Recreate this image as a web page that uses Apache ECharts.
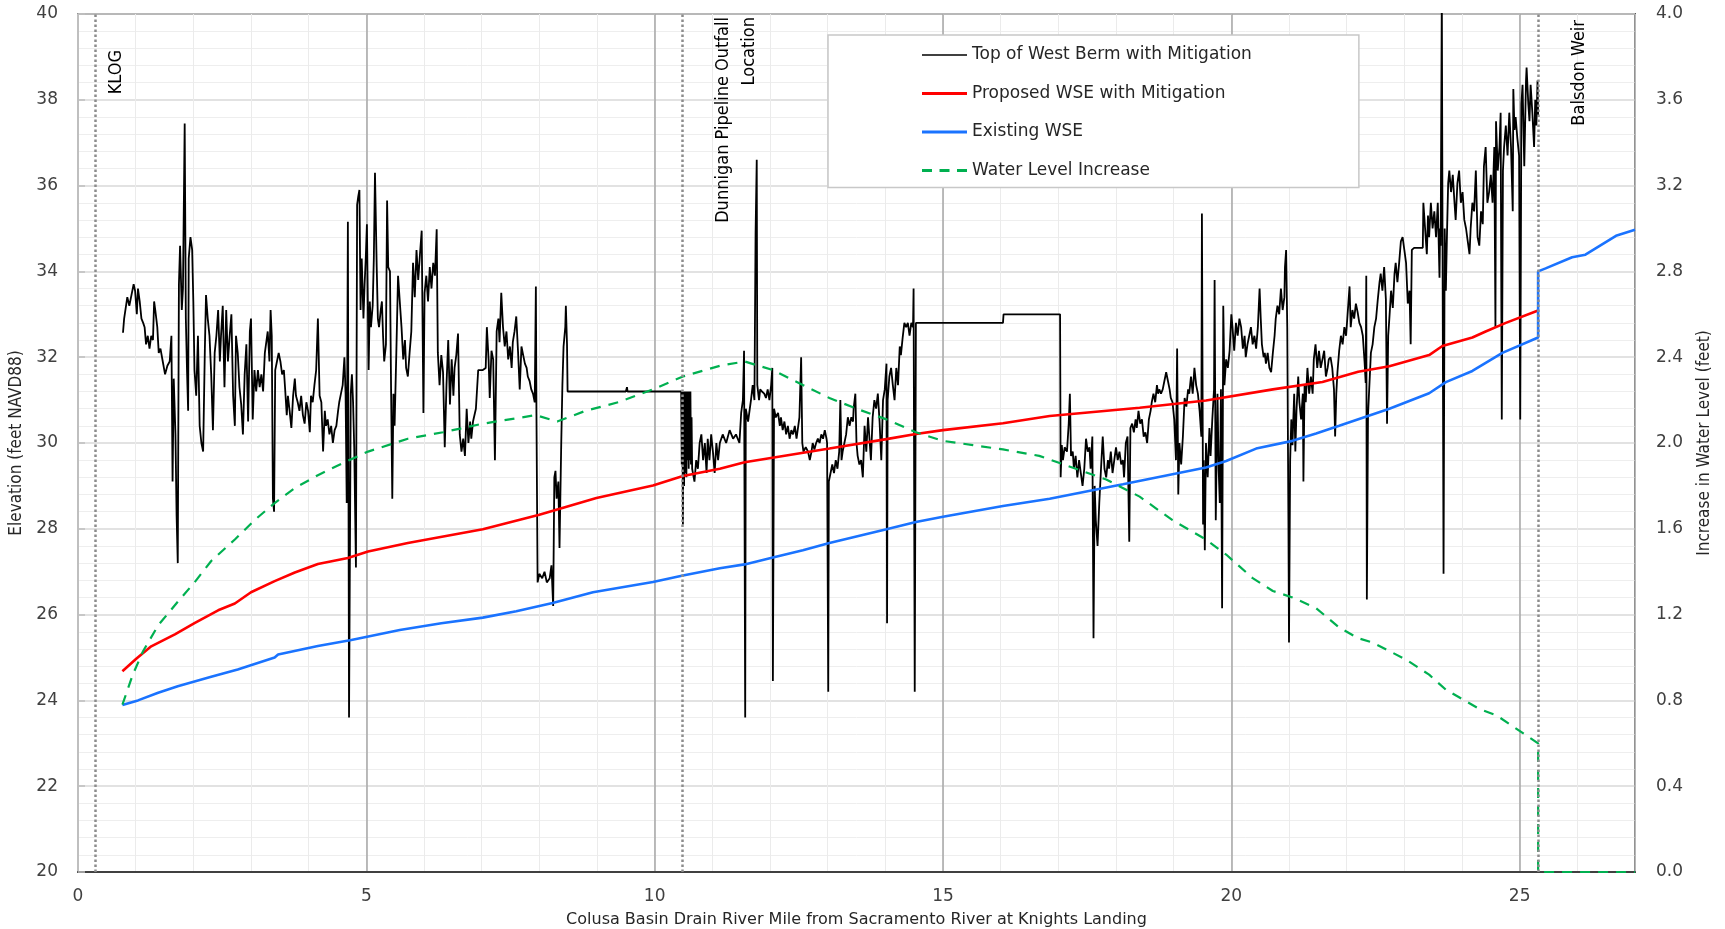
<!DOCTYPE html>
<html>
<head>
<meta charset="utf-8">
<script src="https://cdn.jsdelivr.net/npm/echarts@6/dist/echarts.min.js"></script>
<style>
  html, body { margin: 0; padding: 0; background: #ffffff; }
  #chart { width: 1725px; height: 929px; }
</style>
</head>
<body>
<div id="chart"></div>
<script>
// River mile / elevation pairs for each profile.

// Top of west berm (feet NAVD88) along the drain
const bermTop = [
  [0.78,32.57],[0.80,32.9],[0.83,32.92],[0.855,33.4],[0.89,33.2],[0.92,33.4],[0.965,33.7],[0.99,33.55],[1.02,33.0],[1.04,33.6],
  [1.07,33.3],[1.10,32.9],[1.13,32.8],[1.155,32.7],[1.18,32.3],[1.21,32.5],[1.24,32.2],[1.27,32.5],[1.30,32.4],[1.32,33.3],
  [1.34,33.1],[1.375,32.7],[1.40,32.1],[1.43,32.2],[1.47,31.9],[1.51,31.6],[1.55,31.8],[1.59,31.9],[1.62,32.5],[1.64,29.1],
  [1.66,31.5],[1.69,30.2],[1.71,28.3],[1.73,27.2],[1.75,33.7],[1.77,34.6],[1.80,33.1],[1.82,33.6],[1.85,37.45],[1.87,32.9],
  [1.89,31.7],[1.91,30.75],[1.92,34.3],[1.95,34.8],[1.98,34.5],[2.0,33.3],[2.02,31.7],[2.05,31.1],[2.08,32.5],[2.11,30.4],
  [2.14,30.0],[2.17,29.8],[2.2,32.2],[2.22,33.45],[2.25,32.9],[2.28,32.5],[2.31,31.6],[2.34,30.3],[2.37,32.1],[2.40,32.5],
  [2.43,33.1],[2.46,31.9],[2.48,32.5],[2.51,33.2],[2.54,31.3],[2.57,33.1],[2.60,31.9],[2.63,32.5],[2.66,33.0],[2.69,31.1],
  [2.72,30.4],[2.74,32.5],[2.77,32.1],[2.80,31.3],[2.83,30.9],[2.86,30.2],[2.89,31.6],[2.92,32.3],[2.95,30.5],[2.98,32.6],
  [3.0,32.9],[3.03,30.55],[3.06,31.7],[3.09,31.2],[3.12,31.7],[3.15,31.3],[3.18,31.6],[3.21,31.2],[3.24,32.1],[3.26,32.3],
  [3.29,32.6],[3.32,31.9],[3.34,33.1],[3.36,32.5],[3.38,28.7],[3.40,28.4],[3.42,31.7],[3.45,31.9],[3.48,32.1],[3.51,31.9],
  [3.54,31.6],[3.57,31.7],[3.59,31.3],[3.62,30.65],[3.64,31.1],[3.67,30.75],[3.70,30.35],[3.73,31.1],[3.76,31.5],[3.78,31.1],
  [3.81,30.95],[3.84,30.75],[3.87,31.1],[3.90,30.65],[3.93,30.45],[3.96,30.95],[3.99,30.75],[4.02,30.25],[4.04,31.1],[4.07,30.95],
  [4.10,31.35],[4.13,31.7],[4.16,32.9],[4.19,31.1],[4.22,30.95],[4.25,29.8],[4.28,30.75],[4.30,30.4],[4.33,30.55],[4.36,30.2],
  [4.39,30.4],[4.42,30.0],[4.45,30.3],[4.48,30.4],[4.51,30.75],[4.53,30.95],[4.56,31.15],[4.59,31.35],[4.62,32.0],[4.64,31.15],
  [4.66,28.6],[4.68,35.16],[4.70,23.6],[4.71,23.6],[4.73,31.15],[4.75,31.6],[4.77,30.95],[4.79,29.9],[4.82,27.1],[4.84,35.55],
  [4.86,35.75],[4.88,35.9],[4.90,33.1],[4.92,34.3],[4.95,32.9],[4.97,33.7],[4.99,34.3],[5.01,35.1],[5.04,31.7],[5.06,33.3],
  [5.08,32.7],[5.11,33.2],[5.13,34.3],[5.15,36.3],[5.18,34.1],[5.20,32.9],[5.22,32.7],[5.25,33.1],[5.27,33.3],[5.29,32.5],
  [5.31,31.9],[5.34,32.3],[5.36,35.65],[5.38,34.1],[5.41,34.0],[5.43,31.15],[5.45,28.7],[5.47,31.15],[5.49,30.4],[5.52,32.1],
  [5.55,33.9],[5.58,33.9],[5.61,32.7],[5.64,31.95],[5.67,32.4],[5.69,31.75],[5.72,31.55],[5.75,32.1],[5.78,32.6],[5.81,34.2],
  [5.84,33.4],[5.87,34.5],[5.90,33.8],[5.93,34.4],[5.96,34.95],[5.99,30.7],[6.01,33.5],[6.04,33.9],[6.07,33.3],[6.10,34.1],
  [6.13,33.6],[6.16,34.2],[6.19,33.9],[6.22,34.98],[6.24,32.1],[6.27,31.35],[6.30,32.05],[6.33,31.65],[6.36,29.9],[6.39,31.35],
  [6.42,32.4],[6.45,30.9],[6.48,31.95],[6.51,31.1],[6.53,31.75],[6.56,32.05],[6.59,32.55],[6.62,30.2],[6.65,29.8],[6.68,30.1],
  [6.71,29.7],[6.74,30.8],[6.77,30.0],[6.80,30.5],[6.82,30.1],[6.85,30.5],[6.90,30.8],[6.94,31.7],[7.02,31.7],[7.07,31.75],
  [7.09,32.7],[7.12,31.95],[7.14,31.05],[7.17,32.15],[7.20,31.95],[7.23,29.6],[7.26,32.6],[7.29,32.9],[7.31,32.35],[7.34,33.5],
  [7.37,32.7],[7.40,32.25],[7.43,32.6],[7.46,31.95],[7.49,32.25],[7.52,31.75],[7.54,32.35],[7.57,32.6],[7.60,32.95],[7.63,32.15],
  [7.66,31.25],[7.69,32.25],[7.72,32.05],[7.75,31.85],[7.78,31.75],[7.80,31.55],[7.83,31.45],[7.86,31.25],[7.89,31.15],[7.92,30.95],
  [7.94,33.65],[7.95,30.7],[7.97,26.75],[8.00,26.95],[8.05,26.85],[8.09,27.0],[8.13,26.75],[8.18,26.85],[8.21,27.15],[8.24,26.2],
  [8.26,29.2],[8.28,29.35],[8.30,28.7],[8.33,29.1],[8.35,27.55],[8.38,30.0],[8.40,31.35],[8.42,32.25],[8.45,32.7],[8.46,33.2],
  [8.48,32.3],[8.49,31.2],[9.50,31.2],[9.52,31.3],[9.53,31.2],[10.46,31.2],
  [10.47,29.5],[10.48,31.2],[10.49,28.1],[10.50,31.2],[10.51,29.0],[10.52,31.2],[10.53,29.3],[10.54,31.2],[10.55,29.2],[10.56,31.2],
  [10.57,29.6],[10.58,31.2],[10.59,29.4],[10.60,31.2],[10.61,29.6],[10.62,31.2],[10.63,29.5],[10.64,30.6],[10.65,29.4],
  [10.66,29.4],[10.69,29.1],[10.72,29.6],[10.75,29.4],[10.78,30.0],[10.81,30.2],[10.84,29.6],[10.87,30.0],[10.90,29.3],[10.92,30.1],
  [10.95,29.6],[10.98,30.2],[11.01,29.8],[11.04,29.3],[11.07,30.0],[11.10,29.6],[11.13,30.0],[11.18,30.2],[11.24,30.0],[11.30,30.3],
  [11.36,30.1],[11.41,30.2],[11.47,30.0],[11.50,30.7],[11.53,31.0],[11.55,32.15],[11.57,23.6],[11.58,30.8],[11.62,30.5],[11.65,30.8],
  [11.67,31.0],[11.70,31.35],[11.73,31.0],[11.75,34.9],[11.77,36.6],[11.78,31.35],[11.81,31.0],[11.83,31.25],[11.86,31.2],[11.90,31.15],
  [11.93,31.05],[11.96,31.25],[11.99,31.0],[12.02,31.35],[12.04,31.75],[12.05,24.45],[12.07,30.8],[12.10,30.6],[12.14,30.7],[12.17,30.4],
  [12.19,30.6],[12.22,30.3],[12.25,30.5],[12.28,30.2],[12.31,30.4],[12.34,30.1],[12.37,30.3],[12.40,30.2],[12.43,30.4],[12.46,30.1],
  [12.48,30.3],[12.51,30.6],[12.54,32.0],[12.56,30.0],[12.58,29.8],[12.62,29.9],[12.66,29.8],[12.69,29.6],[12.72,29.8],[12.74,30.0],
  [12.77,29.85],[12.80,30.0],[12.83,30.1],[12.86,30.0],[12.89,30.2],[12.92,30.1],[12.95,30.3],[12.98,30.1],[12.99,30.0],[13.01,24.2],
  [13.02,29.1],[13.05,29.3],[13.08,29.5],[13.11,29.3],[13.14,29.6],[13.17,29.4],[13.20,29.8],[13.22,31.0],[13.24,29.6],[13.26,29.8],
  [13.29,30.0],[13.32,30.2],[13.35,30.6],[13.38,30.4],[13.41,30.6],[13.44,30.5],[13.45,30.8],[13.48,31.15],[13.50,30.0],[13.52,29.7],
  [13.55,29.5],[13.58,29.6],[13.61,29.2],[13.64,30.4],[13.67,29.8],[13.70,30.6],[13.73,30.0],[13.75,29.6],[13.78,30.6],[13.81,31.0],
  [13.84,30.8],[13.87,31.15],[13.90,30.5],[13.93,29.6],[13.96,31.0],[13.99,31.25],[14.02,31.85],[14.03,25.8],[14.04,31.0],[14.07,31.55],
  [14.10,31.75],[14.13,31.35],[14.16,31.0],[14.19,31.75],[14.22,31.35],[14.25,32.25],[14.27,32.05],[14.30,32.45],[14.33,32.8],[14.36,32.7],
  [14.39,32.8],[14.42,32.5],[14.45,32.8],[14.48,32.7],[14.49,33.6],[14.51,24.2],[14.53,32.8],[16.04,32.8],[16.05,33.0],[17.03,33.0],
  [17.04,29.2],[17.06,29.95],[17.08,29.6],[17.11,29.9],[17.15,29.8],[17.18,30.45],[17.20,31.15],[17.22,29.7],[17.25,29.8],[17.27,29.4],
  [17.30,29.7],[17.33,29.2],[17.36,29.6],[17.39,29.3],[17.42,29.0],[17.45,29.4],[17.48,30.1],[17.51,29.8],[17.54,29.9],[17.56,29.4],
  [17.59,30.15],[17.61,25.45],[17.63,29.0],[17.65,28.2],[17.68,27.6],[17.71,28.6],[17.74,29.4],[17.77,30.15],[17.80,29.4],[17.83,29.2],
  [17.86,29.6],[17.88,29.4],[17.91,29.8],[17.94,29.3],[17.97,29.6],[18.00,29.9],[18.03,29.6],[18.06,29.8],[18.09,29.5],[18.12,29.6],
  [18.14,29.2],[18.17,30.0],[18.20,30.15],[18.23,27.7],[18.25,30.35],[18.28,30.45],[18.31,30.25],[18.34,30.55],[18.36,30.35],[18.39,30.75],
  [18.42,30.45],[18.45,30.55],[18.48,30.15],[18.51,30.25],[18.54,30.0],[18.57,30.55],[18.60,30.75],[18.62,30.95],[18.65,31.15],[18.68,30.95],
  [18.71,31.35],[18.73,31.15],[18.75,31.25],[18.78,31.15],[18.81,31.25],[18.84,31.45],[18.87,31.65],[18.90,31.45],[18.93,31.25],[18.95,31.05],
  [18.98,30.95],[19.01,30.55],[19.04,29.6],[19.06,32.2],[19.08,28.8],[19.10,30.0],[19.13,29.5],[19.16,30.15],[19.19,31.05],[19.22,30.85],
  [19.25,31.25],[19.27,31.15],[19.30,31.55],[19.33,31.15],[19.36,31.75],[19.39,31.35],[19.42,31.15],[19.45,30.75],[19.48,30.15],[19.49,35.35],
  [19.51,28.1],[19.52,29.6],[19.54,27.5],[19.56,30.0],[19.59,29.2],[19.62,30.35],[19.64,29.7],[19.67,30.55],[19.70,31.25],[19.71,33.8],
  [19.73,28.2],[19.76,31.15],[19.78,29.4],[19.80,28.6],[19.82,31.25],[19.84,26.15],[19.86,33.2],[19.88,31.35],[19.91,31.95],[19.94,31.75],
  [19.97,32.15],[20.00,33.0],[20.02,32.7],[20.05,32.15],[20.08,32.8],[20.11,32.5],[20.14,32.9],[20.17,32.7],[20.20,32.2],[20.23,32.5],
  [20.25,32.0],[20.28,32.3],[20.31,32.5],[20.34,32.7],[20.37,32.3],[20.40,32.5],[20.43,32.2],[20.46,32.7],[20.49,33.6],[20.51,32.9],
  [20.53,32.3],[20.56,32.0],[20.58,32.1],[20.60,31.85],[20.63,32.1],[20.66,31.75],[20.69,31.65],[20.72,32.1],[20.75,32.5],[20.77,32.9],
  [20.80,33.2],[20.83,33.0],[20.86,33.6],[20.89,33.1],[20.92,33.4],[20.93,34.1],[20.95,34.5],[20.97,32.7],[20.99,28.2],[21.00,25.35],
  [21.02,29.6],[21.04,30.55],[21.06,29.95],[21.09,31.15],[21.11,29.8],[21.13,30.75],[21.16,31.55],[21.18,30.95],[21.21,30.55],[21.24,31.15],
  [21.25,29.1],[21.27,31.35],[21.29,30.95],[21.32,31.75],[21.35,31.15],[21.38,31.55],[21.41,31.15],[21.43,31.95],[21.46,32.3],[21.49,31.75],
  [21.52,32.15],[21.55,31.75],[21.58,31.95],[21.61,32.15],[21.64,31.55],[21.67,31.75],[21.69,31.95],[21.72,32.0],[21.75,31.75],[21.78,31.25],
  [21.80,30.15],[21.82,31.15],[21.84,31.65],[21.87,32.15],[21.90,32.5],[21.93,32.3],[21.96,32.7],[21.99,32.5],[22.02,32.5],[22.05,33.65],
  [22.07,32.7],[22.10,33.1],[22.13,32.9],[22.16,33.25],[22.19,33.05],[22.22,32.8],[22.25,32.7],[22.28,32.5],[22.31,31.9],[22.33,31.4],
  [22.34,33.9],[22.35,26.35],[22.37,30.65],[22.42,32.1],[22.45,32.3],[22.48,32.7],[22.51,32.9],[22.54,33.35],[22.57,33.75],[22.59,33.95],
  [22.62,33.55],[22.65,34.1],[22.68,33.35],[22.70,30.45],[22.72,32.5],[22.74,32.9],[22.77,33.55],[22.80,33.15],[22.83,33.95],[22.85,34.2],
  [22.88,33.75],[22.91,34.2],[22.94,34.7],[22.97,34.8],[23.00,34.5],[23.03,34.2],[23.06,33.25],[23.09,33.55],[23.11,32.3],[23.13,34.5],
  [23.17,34.55],[23.32,34.55],[23.33,35.6],[23.36,35.0],[23.39,34.4],[23.41,35.3],[23.43,34.8],[23.46,35.6],[23.49,35.0],[23.52,35.4],
  [23.55,34.8],[23.58,35.6],[23.61,33.85],[23.62,35.0],[23.63,34.6],[23.65,40.5],[23.66,35.84],[23.68,26.95],[23.70,35.0],[23.72,33.55],
  [23.74,34.9],[23.76,36.05],[23.78,36.35],[23.81,35.85],[23.84,36.25],[23.87,35.6],[23.89,35.2],[23.92,36.05],[23.95,36.35],[23.98,35.6],
  [24.01,35.85],[24.04,35.2],[24.07,35.0],[24.10,34.7],[24.13,34.4],[24.15,35.0],[24.18,35.6],[24.21,35.4],[24.24,36.35],[24.27,34.8],
  [24.30,34.6],[24.33,35.4],[24.36,35.1],[24.38,36.45],[24.41,36.9],[24.44,35.6],[24.47,35.85],[24.50,36.25],[24.53,35.6],[24.56,36.9],
  [24.58,32.7],[24.59,37.5],[24.62,36.35],[24.65,36.9],[24.67,37.7],[24.69,30.55],[24.71,36.35],[24.73,36.9],[24.76,37.4],[24.79,36.7],
  [24.82,37.7],[24.85,36.9],[24.88,35.4],[24.89,38.25],[24.91,37.3],[24.93,37.6],[24.96,37.1],[24.99,36.7],[25.01,30.55],[25.03,37.9],
  [25.05,38.35],[25.08,36.45],[25.11,38.45],[25.12,38.75],[25.15,37.9],[25.17,37.5],[25.19,38.35],[25.22,37.7],[25.25,36.9],[25.27,38.0],
  [25.29,37.4],[25.31,38.45],[25.32,37.6]
];

// Proposed water surface elevation with mitigation (feet NAVD88)
const proposedWse = [
  [0.77,24.68],[1.01,24.97],[1.27,25.26],[1.68,25.54],[2.02,25.8],[2.43,26.1],[2.72,26.26],[3.0,26.52],[3.41,26.78],[3.76,26.98],
  [4.16,27.18],[4.68,27.32],[5.03,27.47],[5.72,27.67],[7.02,27.99],[8.0,28.33],[8.99,28.72],[9.97,29.01],[10.49,29.23],[11.13,29.4],
  [11.56,29.55],[13.03,29.87],[14.02,30.09],[14.53,30.21],[15.0,30.3],[16.04,30.46],[16.85,30.63],[18.41,30.82],[19.56,30.99],[20.72,31.25],
  [21.58,31.42],[22.2,31.66],[22.74,31.79],[23.43,32.05],[23.66,32.26],[24.18,32.46],[24.41,32.6],[24.76,32.8],[25.32,33.09]
];

// Existing water surface elevation (feet NAVD88)
const existingWse = [
  [0.77,23.89],[1.04,24.0],[1.39,24.18],[1.73,24.33],[2.31,24.55],[2.77,24.72],[3.41,25.0],[3.47,25.07],[4.16,25.27],[4.74,25.41],
  [5.58,25.64],[6.3,25.8],[7.02,25.93],[7.6,26.08],[8.23,26.27],[8.93,26.52],[9.97,26.76],[10.49,26.91],[11.13,27.08],[11.56,27.17],
  [12.05,27.33],[12.57,27.5],[13.03,27.67],[14.02,27.99],[14.53,28.16],[15.0,28.28],[16.04,28.53],[16.85,28.7],[18.12,29.04],[19.56,29.43],
  [19.91,29.58],[20.43,29.87],[21.06,30.05],[21.47,30.22],[21.87,30.4],[22.74,30.8],[23.43,31.16],[23.72,31.42],[24.18,31.68],[24.7,32.1],
  [25.32,32.46],[25.32,34.0],[25.45,34.07],[25.91,34.33],[26.14,34.39],[26.67,34.83],[27.0,34.97]
];

// Increase in water level (feet), right-hand axis
const levelIncrease = [
  [0.77,0.78],[0.95,0.92],[1.13,1.03],[1.39,1.15],[1.73,1.26],[2.02,1.35],[2.31,1.45],[2.72,1.55],[3.06,1.64],[3.41,1.72],
  [3.76,1.79],[4.16,1.85],[4.62,1.91],[5.03,1.96],[5.72,2.02],[6.33,2.05],[7.02,2.09],[7.94,2.13],[8.31,2.1],[8.8,2.15],
  [9.37,2.19],[9.97,2.25],[10.49,2.31],[11.13,2.36],[11.56,2.38],[12.05,2.34],[12.57,2.27],[13.03,2.21],[13.5,2.16],[14.02,2.11],
  [14.53,2.05],[15.0,2.01],[15.52,1.99],[16.04,1.97],[16.67,1.94],[17.83,1.83],[18.41,1.75],[18.98,1.64],[19.56,1.55],[19.91,1.48],
  [20.37,1.37],[20.72,1.31],[21.06,1.28],[21.47,1.23],[21.87,1.14],[22.2,1.09],[22.45,1.07],[23.03,0.99],[23.43,0.92],[23.72,0.85],
  [24.3,0.76],[24.6,0.73],[25.32,0.6],[25.32,0],[27,0]
];

// Reference locations along the drain
const markerMiles = [0.3, 10.47, 25.32];
const markerNames = ['KLOG', 'Dunnigan Pipeline Outfall\nLocation', 'Balsdon Weir'];

const seriesNames = [
  'Top of West Berm with Mitigation',
  'Proposed WSE with Mitigation',
  'Existing WSE',
  'Water Level Increase'
];

// Legend keys: plain line segments (solid, or dashed for the increase)
const legendKeys = [
  'path://M0,0h45v1.5h-45z',
  'path://M0,0h45v3h-45z',
  'path://M0,0h45v3h-45z',
  'path://M0,0h10v3h-10z M17.5,0h10v3h-10z M35,0h10v3h-10z'
];
const seriesColors = ['#000000', '#ff0000', '#1a73ff', '#00b050'];

const uiFont = '"DejaVu Sans", Verdana, sans-serif';
const narrowFont = '"Liberation Sans Narrow", "DejaVu Sans Condensed", "Arial Narrow", sans-serif';

const chart = echarts.init(document.getElementById('chart'), null, { renderer: 'canvas' });

const option = {
  animation: false,
  backgroundColor: '#ffffff',
  grid: {
    left: 78, right: 90, top: 14, bottom: 57,
    containLabel: false, outerBoundsMode: 'none',
    show: true, borderColor: '#595959', borderWidth: 2, backgroundColor: 'transparent'
  },
  legend: {
    orient: 'vertical',
    left: 828, top: 35,
    padding: [10, 107, 7, 94],
    itemWidth: 45, itemHeight: 3, itemGap: 18.5,
    backgroundColor: '#ffffff',
    borderColor: '#c8c8c8', borderWidth: 1.5,
    textStyle: { fontFamily: uiFont, fontSize: 17, color: '#262626', lineHeight: 20 },
    data: seriesNames.map((n, i) => ({
      name: n, icon: legendKeys[i],
      itemStyle: { color: seriesColors[i], borderWidth: 0 }
    }))
  },
  xAxis: [
    {
      // one-mile minor grid
      type: 'value', min: 0, max: 27, interval: 1,
      axisLine: { show: false }, axisTick: { show: false }, axisLabel: { show: false },
      splitLine: { show: true, lineStyle: { color: '#ebebeb', width: 1 } }
    },
    {
      type: 'value', min: 0, max: 27, interval: 5, position: 'bottom',
      axisLine: { show: true, onZero: false, lineStyle: { color: '#404040', width: 2 } },
      axisTick: { show: false },
      axisLabel: {
        margin: 16, fontFamily: uiFont, fontSize: 17, color: '#404040',
        formatter: v => (v % 5 === 0 ? String(v) : '')
      },
      splitLine: { show: true, lineStyle: { color: '#a6a6a6', width: 1.5 } },
      name: 'Colusa Basin Drain River Mile from Sacramento River at Knights Landing',
      nameLocation: 'middle', nameGap: 40,
      nameTextStyle: { fontFamily: uiFont, fontSize: 16, color: '#262626' }
    }
  ],
  yAxis: [
    {
      type: 'value', min: 20, max: 40, interval: 2, position: 'left',
      axisLine: { show: true, lineStyle: { color: '#000000', width: 2 } },
      axisTick: { show: false },
      axisLabel: { margin: 20, fontFamily: uiFont, fontSize: 17, color: '#404040' },
      splitLine: { show: true, lineStyle: { color: '#d9d9d9', width: 1.5 } },
      minorTick: { show: false, splitNumber: 5 },
      minorSplitLine: { show: true, lineStyle: { color: '#eeeeee', width: 1 } },
      name: 'Elevation (feet NAVD88)', nameLocation: 'middle', nameRotate: 90, nameGap: 45,
      nameTextStyle: { fontFamily: narrowFont, fontSize: 17, color: '#262626' }
    },
    {
      type: 'value', min: 0, max: 4, interval: 0.4, position: 'right',
      axisLine: { show: true, lineStyle: { color: '#bfbfbf', width: 2 } },
      axisTick: { show: true, inside: false, length: 7, lineStyle: { color: '#bfbfbf', width: 1.5 } },
      axisLabel: {
        margin: 21, fontFamily: uiFont, fontSize: 17, color: '#404040',
        formatter: v => v.toFixed(1)
      },
      splitLine: { show: false },
      name: 'Increase in Water Level (feet)', nameLocation: 'middle', nameRotate: 90, nameGap: 61,
      nameTextStyle: { fontFamily: narrowFont, fontSize: 17, color: '#262626' }
    }
  ],
  series: [
    {
      name: seriesNames[0], type: 'line', xAxisIndex: 1, yAxisIndex: 0,
      data: bermTop, showSymbol: false, symbol: 'none', clip: true,
      lineStyle: { color: seriesColors[0], width: 1.8 }, itemStyle: { color: seriesColors[0] },
      markLine: {
        silent: true, symbol: ['none', 'none'], label: { show: false },
        lineStyle: { color: '#8c8c8c', type: 'dotted', width: 2.5 },
        data: markerMiles.map(m => ({ xAxis: m }))
      }
    },
    {
      name: seriesNames[1], type: 'line', xAxisIndex: 1, yAxisIndex: 0,
      data: proposedWse, showSymbol: false, symbol: 'none',
      lineStyle: { color: seriesColors[1], width: 2.6 }, itemStyle: { color: seriesColors[1] }
    },
    {
      name: seriesNames[2], type: 'line', xAxisIndex: 1, yAxisIndex: 0,
      data: existingWse, showSymbol: false, symbol: 'none',
      lineStyle: { color: seriesColors[2], width: 2.6 }, itemStyle: { color: seriesColors[2] }
    },
    {
      name: seriesNames[3], type: 'line', xAxisIndex: 1, yAxisIndex: 1,
      data: levelIncrease, showSymbol: false, symbol: 'none',
      lineStyle: { color: seriesColors[3], width: 2.2, type: [10, 8] }, itemStyle: { color: seriesColors[3] }
    }
  ]
};

chart.setOption(option);

// Rotated location captions beside the dotted reference lines
const plotTop = chart.convertToPixel({ yAxisIndex: 0 }, 40);
const captionOffsets = [[8, 36], [29, 3], [28, 6]];
chart.setOption({
  graphic: markerMiles.map((m, i) => ({
    type: 'text',
    x: chart.convertToPixel({ xAxisIndex: 1 }, m) + captionOffsets[i][0],
    y: plotTop + captionOffsets[i][1],
    rotation: Math.PI / 2,
    silent: true,
    z: 10,
    style: {
      text: markerNames[i],
      fontFamily: narrowFont,
      fontSize: 18,
      lineHeight: 26,
      fill: '#000000',
      align: 'right',
      verticalAlign: 'top'
    }
  }))
});
</script>
</body>
</html>
